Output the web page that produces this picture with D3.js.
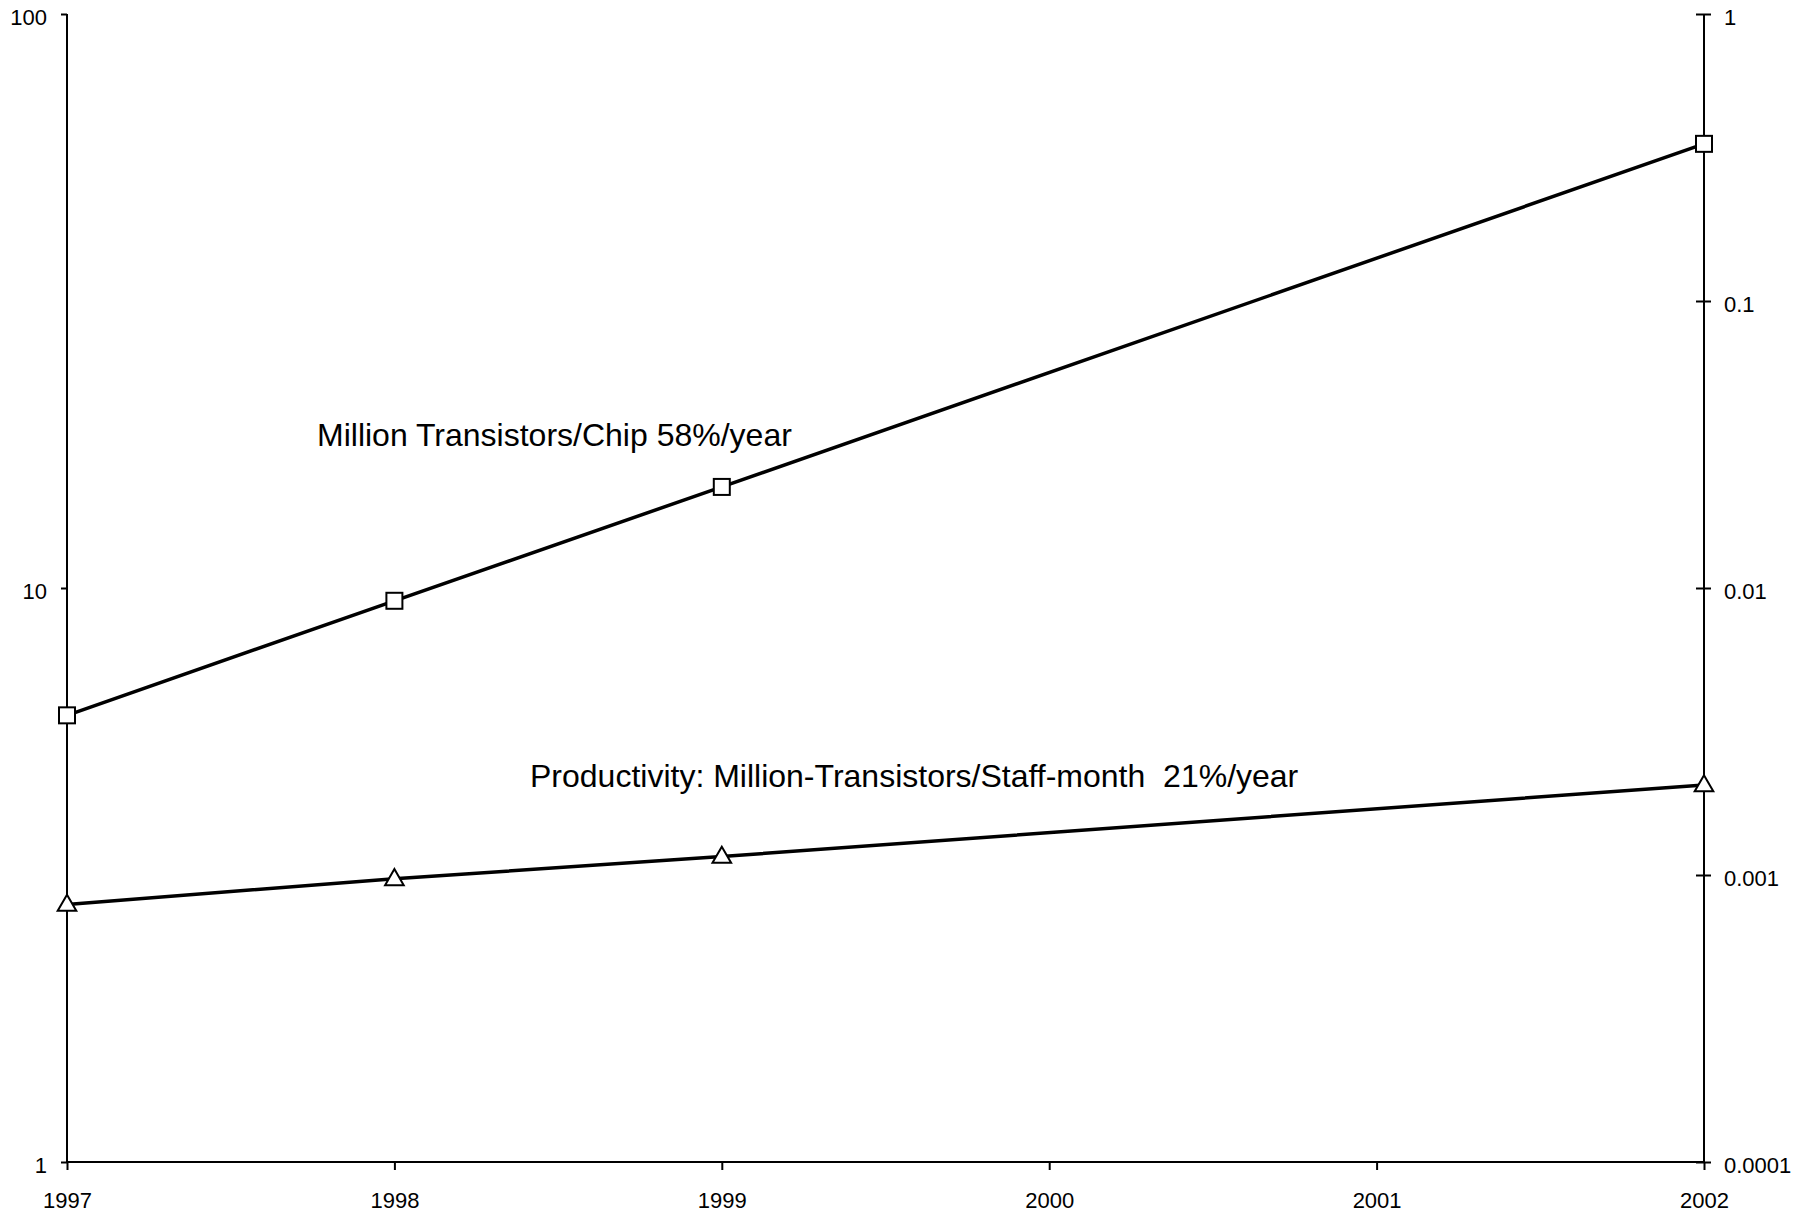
<!DOCTYPE html>
<html>
<head>
<meta charset="utf-8">
<script src="https://cdn.jsdelivr.net/npm/d3@7"></script>
<style>
  html, body { margin: 0; padding: 0; background: #fff; }
  svg text { font-family: "Liberation Sans", Arial, sans-serif; fill: #000; }
</style>
</head>
<body>
<svg id="chart" width="1818" height="1225"></svg>
<script>
// ---- data ----
const years = [1997, 1998, 1999, 2002];
const transistorsPerChip = [6.0, 9.5, 15.0, 59.4];          // left axis (million)
const productivity = [0.00079, 0.00097, 0.00116, 0.00206];  // right axis
const xTickLabels = [1997, 1998, 1999, 2000, 2001, 2002];
const leftTicks = [1, 10, 100];
const rightTicks = [0.0001, 0.001, 0.01, 0.1, 1];
const annotationTransistors = "Million Transistors/Chip 58%/year";
const annotationProductivity = "Productivity: Million-Transistors/Staff-month  21%/year";

// ---- layout ----
const svg = d3.select("#chart");
const plotLeft = 67, plotRight = 1704, plotTop = 14, plotBottom = 1162;

const x = d3.scaleLinear().domain([1997, 2002]).range([plotLeft, plotRight]);
const yL = d3.scaleLog().domain([1, 100]).range([plotBottom, plotTop]);
const yR = d3.scaleLog().domain([0.0001, 1]).range([plotBottom, plotTop]);

const fmtR = d => (d >= 1 ? "1" : String(d));

// left axis
const gL = svg.append("g").attr("transform", `translate(${plotLeft},0)`)
  .call(d3.axisLeft(yL).tickValues(leftTicks).tickFormat(d3.format("d"))
        .tickSizeInner(6).tickSizeOuter(0).tickPadding(14));
// right axis
const gR = svg.append("g").attr("transform", `translate(${plotRight},0)`)
  .call(d3.axisRight(yR).tickValues(rightTicks).tickFormat(fmtR)
        .tickSizeInner(7).tickSizeOuter(0).tickPadding(13));
gR.selectAll(".tick line").attr("x1", -8);
// bottom axis
const gB = svg.append("g").attr("transform", `translate(0,${plotBottom})`)
  .call(d3.axisBottom(x).tickValues(xTickLabels).tickFormat(d3.format("d"))
        .tickSizeInner(8).tickSizeOuter(0).tickPadding(22));

[gL, gR, gB].forEach(g => {
  g.select(".domain").attr("stroke", "#000").attr("stroke-width", 2);
  g.selectAll(".tick line").attr("stroke", "#000").attr("stroke-width", 2);
  g.selectAll(".tick text").attr("font-size", 22).attr("fill", "#000")
    .style("font-family", '"Liberation Sans", Arial, sans-serif');
});
gL.selectAll(".tick text").attr("dy", "0.48em");
gR.selectAll(".tick text").attr("dy", "0.48em");
gB.selectAll(".tick text").attr("dy", "0.71em");
gL.select(".domain").attr("d", `M0,${plotTop}V${plotBottom}`);
gR.select(".domain").attr("d", `M0,${plotTop}V${plotBottom}`);
gB.select(".domain").attr("d", `M${plotLeft},0H${plotRight}`);

// ---- series ----
const tData = years.map((yr, i) => ({ yr, v: transistorsPerChip[i] }));
const pData = years.map((yr, i) => ({ yr, v: productivity[i] }));

svg.append("path").datum(tData)
  .attr("fill", "none").attr("stroke", "#000").attr("stroke-width", 3.5)
  .attr("d", d3.line().x(d => x(d.yr)).y(d => yL(d.v)));
svg.append("path").datum(pData)
  .attr("fill", "none").attr("stroke", "#000").attr("stroke-width", 3.5)
  .attr("d", d3.line().x(d => x(d.yr)).y(d => yR(d.v)));

const sqSize = 16;
svg.selectAll("rect.mk").data(tData).enter().append("rect")
  .attr("class", "mk")
  .attr("x", d => x(d.yr) - sqSize / 2).attr("y", d => yL(d.v) - sqSize / 2)
  .attr("width", sqSize).attr("height", sqSize)
  .attr("fill", "#fff").attr("stroke", "#000").attr("stroke-width", 2);

const tri = d3.symbol().type(d3.symbolTriangle).size(150);
svg.selectAll("path.tri").data(pData).enter().append("path")
  .attr("class", "tri")
  .attr("transform", d => `translate(${x(d.yr)},${yR(d.v) + 1})`)
  .attr("d", tri)
  .attr("fill", "#fff").attr("stroke", "#000").attr("stroke-width", 2);

// ---- annotations ----
svg.append("text").attr("x", 317).attr("y", 446)
  .attr("font-size", 32).text(annotationTransistors);
svg.append("text").attr("x", 530).attr("y", 787)
  .attr("font-size", 32).attr("xml:space", "preserve")
  .style("white-space", "pre").text(annotationProductivity);
</script>
</body>
</html>
